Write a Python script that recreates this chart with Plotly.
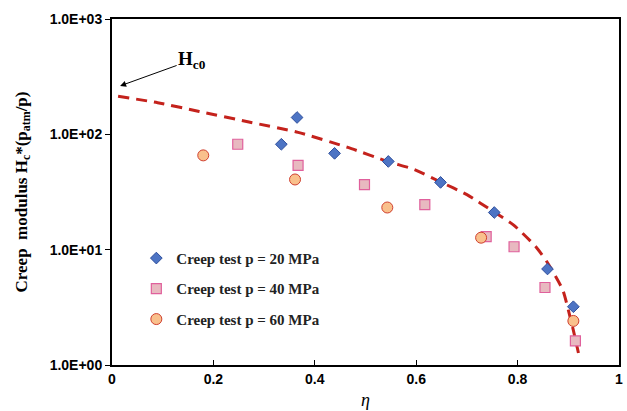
import plotly.graph_objects as go

# Data
eta_20 = [0.334, 0.365, 0.439, 0.545, 0.648, 0.754, 0.859, 0.910]
H_20 = [82, 140, 68.4, 58.2, 38.3, 21.0, 6.8, 3.2]

eta_40 = [0.248, 0.367, 0.498, 0.617, 0.738, 0.793, 0.854, 0.914]
H_40 = [82, 53.8, 36.7, 24.6, 13.0, 10.6, 4.7, 1.62]

eta_60 = [0.180, 0.361, 0.543, 0.728, 0.910]
H_60 = [65.7, 40.6, 23.2, 12.7, 2.41]

eta_fit = [0.012, 0.090, 0.172, 0.270, 0.367, 0.465, 0.545, 0.596, 0.646, 0.700, 0.752, 0.791, 0.836, 0.859, 0.889, 0.900, 0.910, 0.920]
H_fit = [214, 188, 158, 128, 104, 77, 58, 49.6, 39, 30, 21.4, 16.5, 10.6, 7.7, 4.49, 3.0, 2.0, 1.27]

x_ticks = [0, 0.2, 0.4, 0.6, 0.8, 1]
x_ticklabels = ["0", "0.2", "0.4", "0.6", "0.8", "1"]
y_ticks = [1, 10, 100, 1000]
y_ticklabels = ["1.0E+00", "1.0E+01", "1.0E+02", "1.0E+03"]

serif = "Liberation Serif, Times New Roman, serif"
sans = "Liberation Sans, Arial, sans-serif"

fig = go.Figure()
fig.add_trace(go.Scatter(
    x=eta_fit, y=H_fit, mode="lines", showlegend=False,
    line=dict(color="#c4221c", width=3, dash="11px,7px", shape="spline", smoothing=0.6),
))
fig.add_trace(go.Scatter(
    x=eta_20, y=H_20, mode="markers", name="<b>Creep test p = 20 MPa</b>",
    legendgroup="a",
    marker=dict(symbol="diamond", size=9, color="#4d74c4", line=dict(color="#2c4d9c", width=1)),
))
fig.add_trace(go.Scatter(
    x=eta_40, y=H_40, mode="markers", name="<b>Creep test p = 40 MPa</b>",
    legendgroup="b",
    marker=dict(symbol="square", size=10, color="#e8b9c0", line=dict(color="#e0609c", width=1.2)),
))
fig.add_trace(go.Scatter(
    x=eta_60, y=H_60, mode="markers", name="<b>Creep test p = 60 MPa</b>",
    legendgroup="c",
    marker=dict(symbol="circle", size=11, color="#f9c08c", line=dict(color="#d04030", width=1)),
))

fig.add_annotation(
    x=0.016, y=2.42, xref="x", yref="y",
    text="<b>H<sub>c0</sub></b>", showarrow=True,
    ax=72, ay=-26, arrowhead=2, arrowsize=1.2, arrowwidth=1, arrowcolor="black",
    font=dict(family=serif, size=19, color="black"),
)

fig.update_layout(
    width=627, height=411,
    margin=dict(l=112, r=4, t=19, b=46),
    paper_bgcolor="white", plot_bgcolor="white",
    legend=dict(
        x=0.048, y=0.356, xanchor="left", yanchor="top",
        font=dict(family=serif, size=15, color="#222"),
        bgcolor="rgba(0,0,0,0)", tracegroupgap=8,
    ),
    xaxis=dict(
        range=[0, 1], tickvals=x_ticks, ticktext=x_ticklabels,
        ticks="inside", ticklen=5, tickcolor="black",
        showline=True, linecolor="black", linewidth=2, mirror=True,
        showgrid=False, zeroline=False,
        tickfont=dict(family=sans, size=14, color="black", weight="bold"),
        title=dict(text="<i>η</i>", font=dict(family=serif, size=18, color="black"), standoff=8),
    ),
    yaxis=dict(
        type="log", range=[0, 3], tickvals=y_ticks, ticktext=y_ticklabels,
        ticks="outside", ticklen=5, tickcolor="black",
        showline=True, linecolor="black", linewidth=2, mirror=True,
        showgrid=False, zeroline=False,
        tickfont=dict(family=sans, size=14, color="black", weight="bold"),
        title=dict(text="<b>Creep  modulus H<sub>c</sub>*(p<sub>atm</sub>/p)</b>",
                   font=dict(family=serif, size=17, color="black"), standoff=18),
    ),
)

fig.write_html("out.html")
